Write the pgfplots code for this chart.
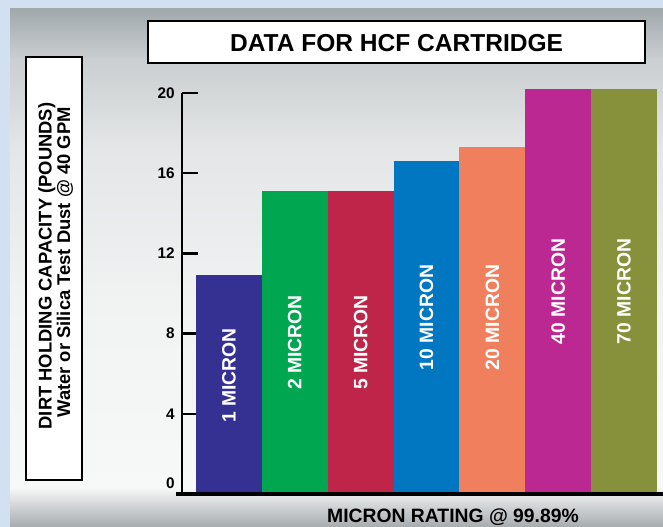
\documentclass[border=0pt]{standalone}
\usepackage{fontspec}
\setmainfont{Liberation Sans}
\usepackage{pgfplots}
\pgfplotsset{compat=1.18}
\definecolor{bgblue}{HTML}{D2E0F2}
\definecolor{cA}{HTML}{353192}
\definecolor{cB}{HTML}{00A650}
\definecolor{cC}{HTML}{BE2549}
\definecolor{cD}{HTML}{0077C0}
\definecolor{cE}{HTML}{F07F5E}
\definecolor{cF}{HTML}{BC2891}
\definecolor{cG}{HTML}{87903A}
\definecolor{g1}{HTML}{A1A9AD}
\definecolor{g2}{HTML}{CBCFD1}
\definecolor{g3}{HTML}{E4E6E7}
\definecolor{g4}{HTML}{F1F2F2}
\definecolor{g5}{HTML}{F7F8F8}
\definecolor{g6}{HTML}{A6ABAE}
\begin{document}
\begin{tikzpicture}
\useasboundingbox (0pt,0pt) rectangle (497.25pt,395.25pt);
\fill[bgblue] (0pt,0pt) rectangle (497.25pt,395.25pt);
\shade[top color=g1, bottom color=g2] (7.5pt,350.25pt) rectangle (497.25pt,388.5pt);
\shade[top color=g2, bottom color=g3] (7.5pt,282.75pt) rectangle (497.25pt,350.5pt);
\shade[top color=g3, bottom color=g4] (7.5pt,170.25pt) rectangle (497.25pt,283pt);
\shade[top color=g4, bottom color=g5] (7.5pt,29.25pt) rectangle (497.25pt,170.5pt);
\shade[top color=g5, bottom color=g6] (7.5pt,0pt) rectangle (497.25pt,29.5pt);
% title box
\draw[fill=white, draw=black, line width=1.2pt] (111pt,348pt) rectangle (483.75pt,379.5pt);
\node[anchor=base, inner sep=0pt, font=\fontsize{18.4}{20}\selectfont\bfseries] at (297.4pt,356.5pt) {DATA FOR HCF CARTRIDGE};
% y label box
\draw[fill=white, draw=black, line width=0.9pt] (19.5pt,35.25pt) rectangle (61.5pt,352.5pt);
\node[rotate=90, anchor=base, inner sep=0pt, font=\fontsize{13.8}{15}\selectfont\bfseries] at (38.8pt,195.75pt) {DIRT HOLDING CAPACITY (POUNDS)};
\node[rotate=90, anchor=base, inner sep=0pt, font=\fontsize{13.8}{15}\selectfont\bfseries] at (52.5pt,198.4pt) {Water or Silica Test Dust @ 40 GPM};
% x label
\node[anchor=base, inner sep=0pt, font=\fontsize{14.5}{16}\selectfont\bfseries] at (339.75pt,3.2pt) {MICRON RATING @ 99.89\%};
\begin{axis}[
  at={(136.5pt,24.75pt)}, anchor=south west,
  scale only axis, width=360.75pt, height=300.75pt,
  xmin=-0.7126, xmax=6.591, ymin=0, ymax=20,
  clip=false,
  axis x line=none, axis y line=left,
  axis line style={-, line width=1.9pt, black},
  xtick=\empty,
  ytick={4,8,12,16,20},
  extra y ticks={0},
  extra y tick style={yticklabel style={yshift=8pt}},
  tick align=inside, major tick length=12pt,
  every tick/.style={black, line width=1.8pt},
  yticklabel style={anchor=east, inner sep=0pt, xshift=-5.25pt, font=\fontsize{11.5}{12}\selectfont\bfseries},
  /pgf/number format/assume math mode=true,
]
\addplot[ybar, bar width=1, bar shift=0, fill=cA, draw=none] coordinates {(0,10.9)};
\addplot[ybar, bar width=1, bar shift=0, fill=cB, draw=none] coordinates {(1,15.1)};
\addplot[ybar, bar width=1, bar shift=0, fill=cC, draw=none] coordinates {(2,15.1)};
\addplot[ybar, bar width=1, bar shift=0, fill=cD, draw=none] coordinates {(3,16.6)};
\addplot[ybar, bar width=1, bar shift=0, fill=cE, draw=none] coordinates {(4,17.3)};
\addplot[ybar, bar width=1, bar shift=0, fill=cF, draw=none] coordinates {(5,20.2)};
\addplot[ybar, bar width=1, bar shift=0, fill=cG, draw=none] coordinates {(6,20.2)};
\addplot[draw=none, mark=none, nodes near coords, point meta=explicit symbolic,
  every node near coord/.append style={rotate=90, anchor=center, text=white, inner sep=0pt, font=\fontsize{14.5}{15}\selectfont\bfseries}]
  coordinates {(0,5.9) [1 MICRON] (1,7.55) [2 MICRON] (2,7.55) [5 MICRON] (3,8.8) [10 MICRON] (4,8.8) [20 MICRON] (5,10.1) [40 MICRON] (6,10.1) [70 MICRON]};
\draw[line width=2.3pt, black] ([xshift=-4.5pt]rel axis cs:0,0) -- (rel axis cs:1,0);
\end{axis}
\end{tikzpicture}
\end{document}
